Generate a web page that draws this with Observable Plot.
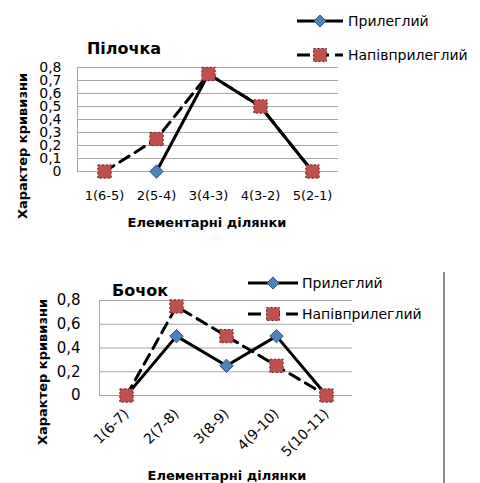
<!DOCTYPE html>
<html>
<head>
<meta charset="utf-8">
<script src="https://cdn.jsdelivr.net/npm/d3@7"></script>
<script src="https://cdn.jsdelivr.net/npm/@observablehq/plot@0.6"></script>
<style>
  body { margin: 0; background: #fff; }
  #root { position: relative; width: 480px; height: 483px; overflow: hidden; font-family: "DejaVu Sans", sans-serif; color: #000; }
  .abs { position: absolute; white-space: nowrap; }
  .c { transform: translate(-50%, -50%); }
  .rot { transform: translate(-50%, -50%) rotate(-90deg); }
  .b { font-weight: bold; }
  .leg { font-size: 14px; transform: translateY(-50%); }
</style>
</head>
<body>
<div id="root"></div>
<script>
// ---- Data ----
const cats1 = ["1(6-5)", "2(5-4)", "3(4-3)", "4(3-2)", "5(2-1)"];
const pril1 = [null, 0, 0.75, 0.5, 0];
const napiv1 = [0, 0.25, 0.75, 0.5, 0];
const yTicks1 = [0, 0.1, 0.2, 0.3, 0.4, 0.5, 0.6, 0.7, 0.8];

const cats2 = ["1(6-7)", "2(7-8)", "3(8-9)", "4(9-10)", "5(10-11)"];
const pril2 = [0, 0.5, 0.25, 0.5, 0];
const napiv2 = [0, 0.75, 0.5, 0.25, 0];
const yTicks2 = [0, 0.2, 0.4, 0.6, 0.8];

const seriesNames = ["Прилеглий", "Напівприлеглий"];
const xTitle = "Елементарні ділянки";
const yTitle = "Характер кривизни";
const titles = ["Пілочка", "Бочок"];

const fmt = d => d === 0 ? "0" : d.toFixed(1).replace(".", ",");
const toRows = (cats, vals) => cats.map((c, i) => ({ c, v: vals[i] }));

const root = document.getElementById("root");

function makeChart(cfg) {
  const a = toRows(cfg.cats, cfg.pril);
  const b = toRows(cfg.cats, cfg.napiv);
  const chart = Plot.plot({
    width: 480, height: cfg.height,
    marginLeft: cfg.ml, marginRight: cfg.mr, marginTop: cfg.mt, marginBottom: cfg.mb,
    style: { fontFamily: "DejaVu Sans, sans-serif", fontSize: "13px", color: "#000", background: "transparent", overflow: "visible" },
    x: { type: "point", domain: cfg.cats, padding: 0.5 },
    y: { domain: [0, 0.8] },
    marks: [
      Plot.ruleY(cfg.yTicks, { stroke: "#a6a6a6", strokeWidth: 1 }),
      Plot.frame({ anchor: "left", stroke: "#a6a6a6" }),
      Plot.axisY({ ticks: cfg.yTicks, tickSize: 0, tickPadding: cfg.yPad, tickFormat: fmt, fontSize: cfg.yFont, label: null }),
      Plot.axisX({ tickSize: 0, tickPadding: cfg.xPad, fontSize: cfg.xFont, label: null, tickRotate: cfg.rot }),
      Plot.line(a, { x: "c", y: "v", stroke: "#000", strokeWidth: 3 }),
      Plot.dot(a.filter(d => d.v != null), { x: "c", y: "v", symbol: "diamond2", r: 6, fill: "#4F81BD", stroke: "#2f4f7a", strokeWidth: 1 }),
      Plot.line(b, { x: "c", y: "v", stroke: "#000", strokeWidth: 3, strokeDasharray: "11,7" }),
      Plot.dot(b, { x: "c", y: "v", symbol: "square", r: 7.5, fill: "#C0504D", stroke: "#5a2a28", strokeWidth: 1, strokeDasharray: "2,2" })
    ]
  });
  chart.style.position = "absolute";
  chart.style.left = "0px";
  chart.style.top = cfg.top + "px";
  root.appendChild(chart);
}

makeChart({ cats: cats1, pril: pril1, napiv: napiv1, yTicks: yTicks1, top: 0, height: 240,
  ml: 77, mr: 142, mt: 67, mb: 69, yPad: 16, xPad: 19, rot: 0, yFont: 14, xFont: 13 });
makeChart({ cats: cats2, pril: pril2, napiv: napiv2, yTicks: yTicks2, top: 240, height: 243,
  ml: 99, mr: 128, mt: 60, mb: 88, yPad: 19, xPad: 16, rot: -45, yFont: 15, xFont: 14 });

function addText(txt, x, y, cls, size) {
  const d = document.createElement("div");
  d.className = "abs " + cls;
  d.style.left = x + "px";
  d.style.top = y + "px";
  d.style.fontSize = size + "px";
  d.textContent = txt;
  root.appendChild(d);
}

// Titles and axis titles
addText(titles[0], 124, 48, "c b", 16);
addText(titles[1], 140, 290, "c b", 16);
addText(xTitle, 207, 222, "c b", 13);
addText(xTitle, 227, 475, "c b", 13);
addText(yTitle, 22, 146, "rot b", 13);
addText(yTitle, 42, 372, "rot b", 13);

// Legends
function legendSwatch(x, y, w, dashed) {
  const ns = "http://www.w3.org/2000/svg";
  const s = document.createElementNS(ns, "svg");
  s.setAttribute("width", w);
  s.setAttribute("height", 20);
  s.style.position = "absolute";
  s.style.left = x + "px";
  s.style.top = (y - 10) + "px";
  const l = document.createElementNS(ns, "line");
  l.setAttribute("x1", 0); l.setAttribute("x2", w);
  l.setAttribute("y1", 10); l.setAttribute("y2", 10);
  l.setAttribute("stroke", "#000"); l.setAttribute("stroke-width", 3);
  if (dashed) l.setAttribute("stroke-dasharray", "13,6");
  s.appendChild(l);
  const m = w / 2;
  if (dashed) {
    const r = document.createElementNS(ns, "rect");
    r.setAttribute("x", m - 6.5); r.setAttribute("y", 3.5);
    r.setAttribute("width", 13); r.setAttribute("height", 13);
    r.setAttribute("fill", "#C0504D"); r.setAttribute("stroke", "#5a2a28");
    r.setAttribute("stroke-dasharray", "2,2");
    s.appendChild(r);
  } else {
    const p = document.createElementNS(ns, "path");
    p.setAttribute("d", `M${m},4L${m + 6},10L${m},16L${m - 6},10Z`);
    p.setAttribute("fill", "#4F81BD"); p.setAttribute("stroke", "#2f4f7a");
    s.appendChild(p);
  }
  root.appendChild(s);
}
legendSwatch(297, 21, 46, false);
legendSwatch(297, 55, 46, true);
addText(seriesNames[0], 348, 21, "leg", 14);
addText(seriesNames[1], 348, 55, "leg", 14);
legendSwatch(248, 283, 50, false);
legendSwatch(248, 314, 50, true);
addText(seriesNames[0], 302, 283, "leg", 14);
addText(seriesNames[1], 302, 314, "leg", 14);

// Vertical separator line at right of the lower chart
const vl = document.createElement("div");
vl.style.cssText = "position:absolute;left:443px;top:272px;width:1.5px;height:211px;background:#8c8c8c;";
root.appendChild(vl);
</script>
</body>
</html>
